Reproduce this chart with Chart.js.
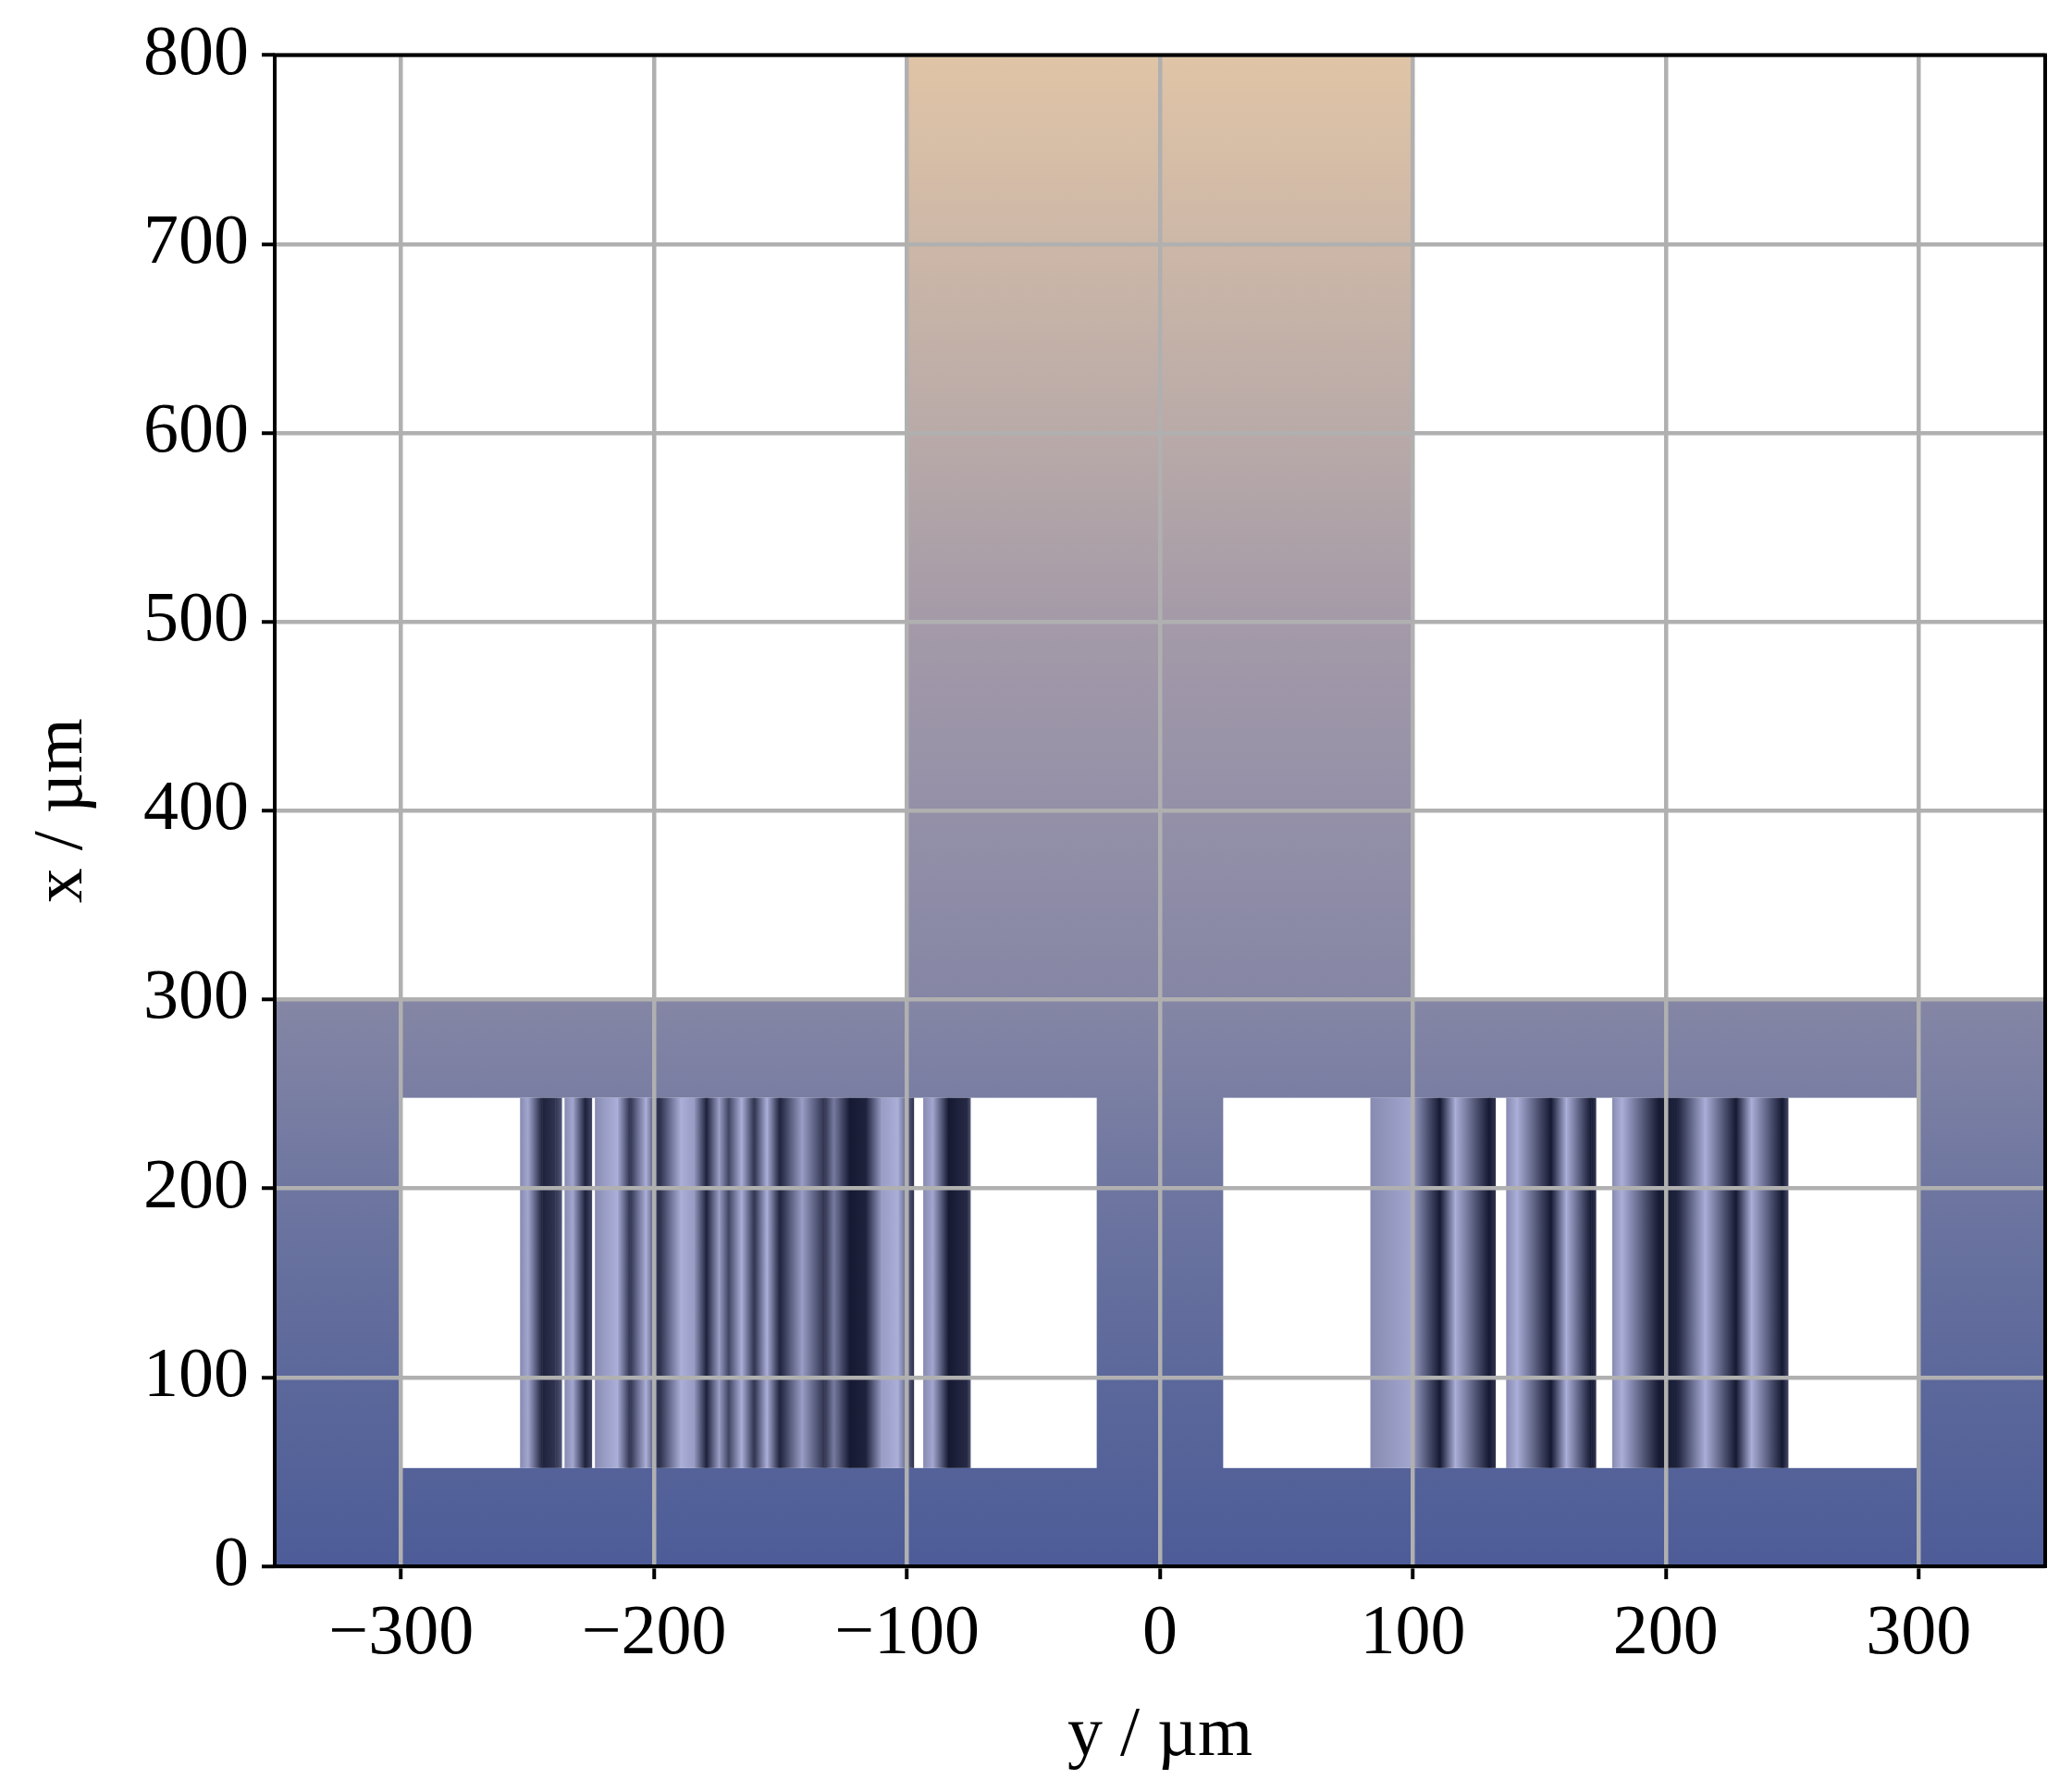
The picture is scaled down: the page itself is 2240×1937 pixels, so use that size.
<!DOCTYPE html>
<html>
<head>
<meta charset="utf-8">
<script src="https://cdn.jsdelivr.net/npm/chart.js@4"></script>
<style>
  body { margin: 0; background: #fff; }
  #wrap { width: 2240px; height: 1937px; }
</style>
</head>
<body>
<div id="wrap"><canvas id="chart"></canvas></div>
<script>
// axis ticks (µm)
const y_ticks = [-300, -200, -100, 0, 100, 200, 300];
const x_ticks = [0, 100, 200, 300, 400, 500, 600, 700, 800];

// colour of the structure along x (µm) -> rgb
const grad_x = [0, 100, 200, 300, 400, 500, 600, 800];
const grad_rgb = [
  [77, 92, 152], [92, 104, 155], [110, 118, 160], [133, 134, 165],
  [148, 144, 168], [164, 154, 168], [185, 170, 168], [224, 196, 166],
];

// structure outline: [yMin, yMax, xMin, xMax]
const column = [-100, 100, 300, 800];
const band = [-350, 350, 0, 300];
const holes = [[-300, -25, 52, 248], [25, 300, 52, 248]];

// stripe profile inside the holes (y position, shade 0 = dark .. 1 = light, null = gap)
const stripe_x = [52, 248];
const left_y = [-253, -249.9, -244.2, -239.1, -236.6, null, -235.4, -232.2, -227.2, -224.7, null,
  -223.4, -219.6, -214.6, -209.5, -203.2, -198.2, -189.4, -184.3, -179.3, -174.3, -170.5,
  -165.4, -160.4, -155.4, -150.3, -141.5, -132.7, -128.9, -122.6, -116.3, -110, -103.7, -97.4, null,
  -93.6, -89.8, -83.5, -76, -75];
const left_shade = [0.7, 0.85, 0.1, 0.2, 0.4, null, 0.7, 0.85, 0.1, 0.3, null,
  0.7, 0.8, 0.9, 0.2, 0.9, 0.15, 0.9, 0.8, 0.1, 0.8, 0.3,
  0.9, 0.2, 0.9, 0.1, 0.8, 0.2, 0.6, 0.05, 0.1, 0.8, 0.9, 0.2, null,
  0.7, 0.85, 0.05, 0.15, 0.4];
const right_y = [83.2, 99, 110.7, 116.8, 130.2, 132.6, null, 136.9, 141.2, 154.6, 160.7, 170.5, 172.3, null,
  178.8, 182.7, 197.3, 204.6, 215.6, 227.8, 233.9, 246.1, 248.3];
const right_shade = [0.7, 0.85, 0.05, 0.9, 0.05, 0.2, null, 0.7, 0.9, 0.05, 0.9, 0.05, 0.2, null,
  0.7, 0.9, 0.05, 0.1, 0.9, 0.05, 0.9, 0.05, 0.3];

const dark = [12, 16, 40], light = [188, 192, 236];
function shadeColor(s) {
  const c = dark.map((d, i) => Math.round(d + (light[i] - d) * s));
  return `rgb(${c[0]},${c[1]},${c[2]})`;
}

const structurePlugin = {
  id: 'structure',
  beforeDraw(chart) {
    const ctx = chart.ctx, xs = chart.scales.x, ys = chart.scales.y, a = chart.chartArea;
    ctx.save();
    ctx.beginPath();
    ctx.rect(a.left, a.top, a.right - a.left, a.bottom - a.top);
    ctx.clip();
    const g = ctx.createLinearGradient(0, ys.getPixelForValue(0), 0, ys.getPixelForValue(800));
    grad_x.forEach((v, i) => {
      const c = grad_rgb[i];
      g.addColorStop(v / 800, `rgb(${c[0]},${c[1]},${c[2]})`);
    });
    ctx.fillStyle = g;
    const rect = r => {
      const x0 = xs.getPixelForValue(r[0]), x1 = xs.getPixelForValue(r[1]);
      const y0 = ys.getPixelForValue(r[3]), y1 = ys.getPixelForValue(r[2]);
      return [x0, y0, x1 - x0, y1 - y0];
    };
    ctx.fillRect(...rect(column));
    ctx.fillRect(...rect(band));
    ctx.fillStyle = '#fff';
    holes.forEach(h => ctx.fillRect(...rect(h)));
    // stripes
    const top = ys.getPixelForValue(stripe_x[1]), bot = ys.getPixelForValue(stripe_x[0]);
    [[left_y, left_shade], [right_y, right_shade]].forEach(([py, ps]) => {
      for (let i = 0; i < py.length - 1; i++) {
        if (py[i] === null || py[i + 1] === null) continue;
        const p0 = xs.getPixelForValue(py[i]), p1 = xs.getPixelForValue(py[i + 1]);
        const lg = ctx.createLinearGradient(p0, 0, p1, 0);
        lg.addColorStop(0, shadeColor(ps[i]));
        lg.addColorStop(1, shadeColor(ps[i + 1]));
        ctx.fillStyle = lg;
        ctx.fillRect(p0, top, p1 - p0 + 0.5, bot - top);
      }
    });
    ctx.restore();
  },
  afterDraw(chart) {
    const ctx = chart.ctx, a = chart.chartArea;
    ctx.save();
    ctx.strokeStyle = '#000';
    ctx.lineWidth = 4;
    ctx.strokeRect(a.left, a.top, a.right - a.left, a.bottom - a.top);
    ctx.restore();
  }
};

const font = { family: "'Liberation Serif', 'DejaVu Serif', serif", size: 76 };
const fmt = v => (v < 0 ? '\u2212' + Math.abs(v) : String(v));

new Chart(document.getElementById('chart'), {
  type: 'scatter',
  data: { datasets: [{ data: [], showLine: false }] },
  plugins: [structurePlugin],
  options: {
    responsive: true,
    maintainAspectRatio: false,
    devicePixelRatio: 1,
    animation: false,
    layout: { padding: { top: 54, right: 29, left: 0, bottom: 0 } },
    plugins: { legend: { display: false }, tooltip: { enabled: false } },
    scales: {
      x: {
        type: 'linear', min: -350, max: 350,
        afterBuildTicks: s => { s.ticks = y_ticks.map(v => ({ value: v })); },
        afterFit: s => { s.height = 244; },
        ticks: { callback: fmt, font, color: '#000', padding: 14, maxRotation: 0 },
        grid: { color: '#b0b0b0', lineWidth: 4.5, tickColor: '#000', tickLength: 14, tickWidth: 4 },
        border: { display: false },
        title: { display: true, text: 'y / µm', font, color: '#000', padding: { top: 10, bottom: 14 } },
      },
      y: {
        type: 'linear', min: 0, max: 800,
        afterBuildTicks: s => { s.ticks = x_ticks.map(v => ({ value: v })); },
        afterFit: s => { s.width = 297; },
        ticks: { callback: fmt, font, color: '#000', padding: 14 },
        grid: { color: '#b0b0b0', lineWidth: 4.5, tickColor: '#000', tickLength: 14, tickWidth: 4 },
        border: { display: false },
        title: { display: true, text: 'x / µm', font, color: '#000', padding: { top: 22, bottom: 10 } },
      },
    },
  },
});
</script>
</body>
</html>
